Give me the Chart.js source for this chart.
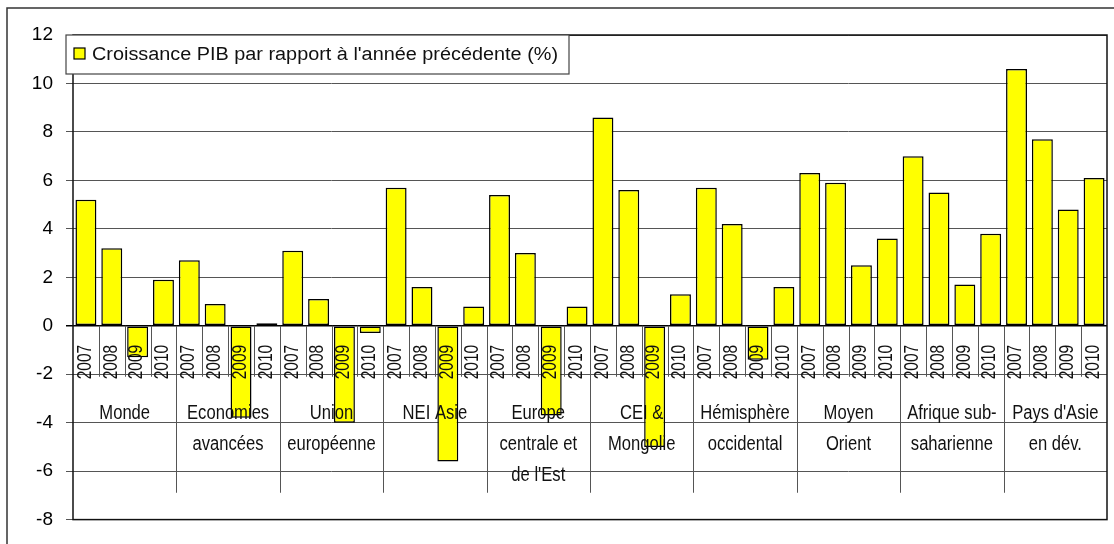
<!DOCTYPE html>
<html>
<head>
<meta charset="utf-8">
<script src="https://cdn.jsdelivr.net/npm/chart.js@4/dist/chart.umd.min.js"></script>
<style>
  html, body { margin: 0; padding: 0; background: #fff; }
  #wrap { width: 1114px; height: 544px; }
</style>
</head>
<body>
<div id="wrap"><canvas id="growthChart" width="1114" height="544"></canvas></div>
<script>
// regions (each label split in the lines shown under the axis)
const groupLabels = [
    ['Monde'],
    ['Economies', 'avancées'],
    ['Union', 'européenne'],
    ['NEI Asie'],
    ['Europe', 'centrale et', 'de l\'Est'],
    ['CEI &', 'Mongolie'],
    ['Hémisphère', 'occidental'],
    ['Moyen', 'Orient'],
    ['Afrique sub-', 'saharienne'],
    ['Pays d\'Asie', 'en dév.']
];
const years = ['2007', '2008', '2009', '2010'];

// croissance en %, 4 années par région
const growth = [
    5.2, 3.2, -1.3, 1.9,
    2.7, 0.9, -3.8, 0.1,
    3.1, 1.1, -4.0, -0.3,
    5.7, 1.6, -5.6, 0.8,
    5.4, 3.0, -3.7, 0.8,
    8.6, 5.6, -5.0, 1.3,
    5.7, 4.2, -1.4, 1.6,
    6.3, 5.9, 2.5, 3.6,
    7.0, 5.5, 1.7, 3.8,
    10.6, 7.7, 4.8, 6.1
];
const yTicks = [-8, -6, -4, -2, 0, 2, 4, 6, 8, 10, 12];
const seriesLabel = 'Croissance PIB par rapport à l\'année précédente (%)';

const categories = [];
groupLabels.forEach(g => years.forEach(y => categories.push(y + ' ' + g.join(' '))));

const FONT = '"Liberation Sans", Arial, sans-serif';

// axe des catégories dessiné à la main (années + régions + séparateurs)
const annotations = {
    id: 'annotations',
    beforeDraw(chart) {
        const ctx = chart.ctx;
        ctx.save();
        ctx.fillStyle = '#fff';
        ctx.fillRect(0, 0, chart.width, chart.height);
        ctx.strokeStyle = '#333';
        ctx.lineWidth = 1.5;
        ctx.beginPath();
        ctx.moveTo(7, chart.height);
        ctx.lineTo(7, 8);
        ctx.lineTo(chart.width, 8);
        ctx.stroke();
        ctx.restore();
    },
    afterDatasetsDraw(chart) {
        const { ctx, scales: { x, y } } = chart;
        const y0 = y.getPixelForValue(0);
        const half = (x.getPixelForValue(1) - x.getPixelForValue(0)) / 2;
        ctx.save();

        // séparateurs
        ctx.strokeStyle = '#555';
        ctx.lineWidth = 1;
        for (let i = 1; i < growth.length; i++) {
            const bx = Math.round(x.getPixelForValue(i) - half) + 0.5;
            const isGroup = i % years.length === 0;
            ctx.beginPath();
            ctx.moveTo(bx, y0);
            ctx.lineTo(bx, y0 + (isGroup ? 167 : 51));
            ctx.stroke();
        }

        // années verticales
        ctx.fillStyle = '#111';
        ctx.font = '21px ' + FONT;
        ctx.textAlign = 'right';
        ctx.textBaseline = 'middle';
        growth.forEach((v, i) => {
            ctx.save();
            ctx.translate(x.getPixelForValue(i) - 1, y0 + 19);
            ctx.rotate(-Math.PI / 2);
            ctx.scale(0.74, 1);
            ctx.fillText(years[i % years.length], 0, 0);
            ctx.restore();
        });

        // régions
        ctx.font = '20px ' + FONT;
        ctx.textAlign = 'center';
        ctx.textBaseline = 'alphabetic';
        groupLabels.forEach((lines, g) => {
            const first = g * years.length;
            const cx = (x.getPixelForValue(first) + x.getPixelForValue(first + years.length - 1)) / 2;
            lines.forEach((t, k) => {
                ctx.save();
                ctx.translate(cx, y0 + 93 + k * 31);
                ctx.scale(0.83, 1);
                ctx.fillText(t, 0, 0);
                ctx.restore();
            });
        });
        ctx.restore();
    },
    afterDraw(chart) {
        const { ctx, chartArea: a } = chart;
        ctx.save();
        // cadre de la zone de tracé
        ctx.strokeStyle = '#111';
        ctx.lineWidth = 1.5;
        ctx.strokeRect(a.left, a.top, a.right - a.left, a.bottom - a.top);

        // légende
        const ds = chart.data.datasets[0];
        ctx.fillStyle = '#fff';
        ctx.fillRect(66, 35, 503, 39);
        ctx.strokeStyle = '#444';
        ctx.lineWidth = 1.2;
        ctx.strokeRect(66, 35, 503, 39);
        ctx.fillStyle = ds.backgroundColor;
        ctx.fillRect(74, 48, 11, 11);
        ctx.strokeStyle = '#000';
        ctx.strokeRect(74, 48, 11, 11);
        ctx.font = '18px ' + FONT;
        ctx.fillStyle = '#111';
        ctx.textAlign = 'left';
        ctx.textBaseline = 'alphabetic';
        const w = ctx.measureText(ds.label).width;
        ctx.translate(92, 60);
        ctx.scale(466 / w, 1);
        ctx.fillText(ds.label, 0, 0);
        ctx.restore();
    }
};

const chart = new Chart(document.getElementById('growthChart').getContext('2d'), {
    type: 'bar',
    data: {
        labels: categories,
        datasets: [{
            label: seriesLabel,
            data: growth,
            backgroundColor: '#FFFF00',
            borderColor: '#000',
            borderWidth: 1.5,
            borderSkipped: false,
            categoryPercentage: 1,
            barPercentage: 0.81
        }]
    },
    options: {
        responsive: false,
        animation: false,
        devicePixelRatio: 1,
        layout: { padding: { left: 0, top: 35, right: 7, bottom: 20 } },
        plugins: {
            legend: { display: false },
            tooltip: { enabled: false }
        },
        scales: {
            x: { display: false },
            y: {
                min: yTicks[0],
                max: yTicks[yTicks.length - 1],
                afterBuildTicks: s => { s.ticks = yTicks.map(v => ({ value: v })); },
                afterFit: s => { s.width = 73; },
                ticks: {
                    color: '#000',
                    font: { family: FONT, size: 19 },
                    padding: 13
                },
                grid: {
                    color: c => (c.tick && c.tick.value === 0) ? '#000' : '#555',
                    lineWidth: c => (c.tick && c.tick.value === 0) ? 1.5 : 1,
                    tickLength: 7
                },
                border: { display: false }
            }
        }
    },
    plugins: [annotations]
});
</script>
</body>
</html>
